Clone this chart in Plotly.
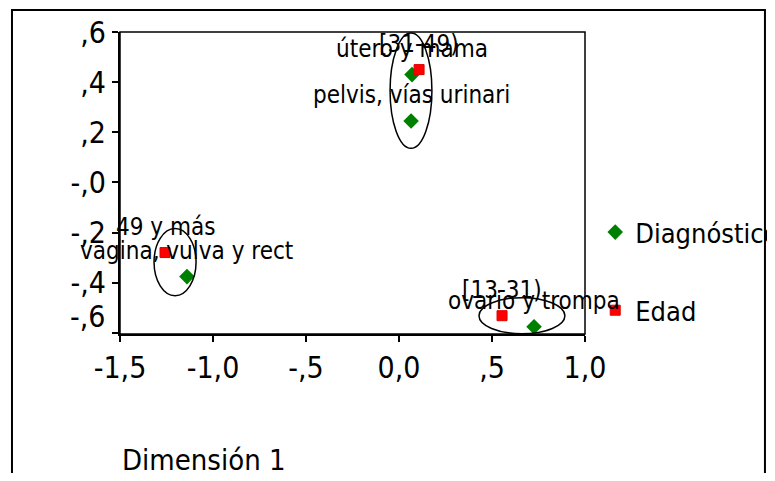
import plotly.graph_objects as go

# ---- data ----
diag_labels = ["útero y mama", "pelvis, vías urinari", "vagina, vulva y rect", "ovario y trompa"]
diag_x = [0.07, 0.065, -1.14, 0.726]
diag_y = [0.43, 0.245, -0.376, -0.576]

edad_labels = ["[31-49)", "49 y más", "[13-31)"]
edad_x = [0.108, -1.258, 0.554]
edad_y = [0.45, -0.28, -0.532]

x_tickvals = [-1.5, -1.0, -0.5, 0.0, 0.5, 1.0]
x_ticktext = ["-1,5", "-1,0", "-,5", "0,0", ",5", "1,0"]
y_tickvals = [0.6, 0.4, 0.2, 0.0, -0.2, -0.4, -0.6]
y_ticktext = [",6", ",4", ",2", "-,0", "-,2", "-,4", ""]
y_bottom_label = "-,6"

# group ellipses (x0, x1, y0, y1) in data units
ell_x0 = [-0.048, -1.317, 0.430]
ell_x1 = [0.177, -1.091, 0.892]
ell_y0 = [0.136, -0.452, -0.604]
ell_y1 = [0.596, -0.184, -0.46]

FONT = "Liberation Sans Narrow, Arial Narrow, DejaVu Sans Condensed, sans-serif"

fig = go.Figure()
fig.add_trace(go.Scatter(
    x=diag_x, y=diag_y, mode="markers", name="Diagnóstico",
    marker=dict(symbol="diamond", size=12, color="#008000"),
    legendgroup="d", cliponaxis=False,
))
fig.add_trace(go.Scatter(
    x=edad_x, y=edad_y, mode="markers", name="Edad",
    marker=dict(symbol="square", size=10, color="#ff0000", line=dict(color="#e00000", width=1)),
    legendgroup="e", cliponaxis=False,
))

annotations = []
for lab, xv, yv in zip(diag_labels + edad_labels, diag_x + edad_x, diag_y + edad_y):
    annotations.append(dict(
        x=xv, y=yv, xref="x", yref="y", text=lab, showarrow=False,
        yshift=26, font=dict(family=FONT, size=24, color="black"),
    ))

annotations.append(dict(
    x=0, y=-0.417, xref="paper", yref="paper", xanchor="left", yanchor="middle",
    text="Dimensión 1", showarrow=False, font=dict(family=FONT, size=29, color="black"),
))
annotations.append(dict(
    x=-0.028, y=y_tickvals[-1], xref="paper", yref="y", xanchor="right", yanchor="middle",
    yshift=16, text=y_bottom_label, showarrow=False, font=dict(family=FONT, size=30, color="black"),
))

shapes = []
for a, b, c, d in zip(ell_x0, ell_x1, ell_y0, ell_y1):
    shapes.append(dict(type="circle", xref="x", yref="y", x0=a, x1=b, y0=c, y1=d,
                       line=dict(color="black", width=1.5)))
# plot frame
shapes.append(dict(type="rect", xref="paper", yref="paper", x0=0, x1=1, y0=0, y1=1,
                   line=dict(color="black", width=1.5)))
# outer frame
shapes.append(dict(type="rect", xref="paper", yref="paper", x0=-0.2323, x1=1.387, y0=-0.7, y1=1.073,
                   line=dict(color="black", width=2)))

fig.update_layout(
    width=759, height=465,
    margin=dict(l=112, r=182, t=24, b=139, pad=0, autoexpand=False),
    paper_bgcolor="white", plot_bgcolor="white",
    font=dict(family=FONT, color="black"),
    showlegend=True,
    legend=dict(x=1.022, y=0.417, xanchor="left", yanchor="top",
                font=dict(family=FONT, size=27), traceorder="grouped",
                tracegroupgap=40, bgcolor="rgba(0,0,0,0)"),
    annotations=annotations, shapes=shapes,
)
fig.update_xaxes(range=[-1.5, 1.0], tickvals=x_tickvals, ticktext=x_ticktext,
                 showline=True, linewidth=2, linecolor="black", ticks="outside",
                 ticklen=6, tickwidth=2, tickcolor="black", showgrid=False, zeroline=False,
                 tickfont=dict(family=FONT, size=30))
fig.update_yaxes(range=[-0.605, 0.6], tickvals=y_tickvals, ticktext=y_ticktext,
                 showline=True, linewidth=2, linecolor="black", ticks="outside",
                 ticklen=6, tickwidth=2, tickcolor="black", showgrid=False, zeroline=False,
                 tickfont=dict(family=FONT, size=30))

fig.write_html("out.html")
